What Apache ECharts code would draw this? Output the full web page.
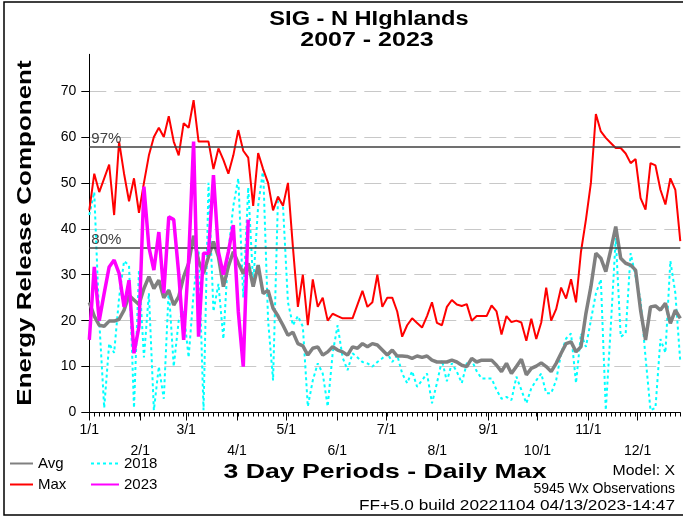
<!DOCTYPE html>
<html><head><meta charset="utf-8">
<script src="https://cdn.jsdelivr.net/npm/echarts@6/dist/echarts.min.js"></script>
<style>html,body{margin:0;padding:0;background:#fff}#c{width:683px;height:517px}</style>
</head><body><div id="c"></div>
<script>
// ---- data ----
const monthLabels = ['1/1','2/1','3/1','4/1','5/1','6/1','7/1','8/1','9/1','10/1','11/1','12/1'];
const monthStartDays = [0,31,59,90,120,151,181,212,243,273,304,334];
const yTickValues = [0,10,20,30,40,50,60,70];
const maxVals = [44,52,48,51,54,43,59,52,46,51,43.5,50,56,60,62,60,64.5,59,56,63,62,68,59,59,59,53,57.5,55,52,56,61.5,57,55.5,45,56.5,53,50,44,47,45,
 50,36,23,30,19,29,23,25,20,21.5,21,20.5,20.5,20.5,23.5,26.5,23,24,30,23,25,25,22,16.5,19,20.5,19.5,18.5,21,24,19.5,19,23,24.5,23.5,23.2,23.6,20,21,21,
 21,23.3,22,17,21,19.7,20,19.6,15.6,20.4,16,19.6,27.2,20,22.5,27.2,24.8,29,24,35,42,50,65,61.2,59.8,58.7,57.6,57.6,56.4,54.3,55.2,46.7,44.2,54.3,53.8,48.5,45.3,51,48.5,37.3];
const avgVals = [24,21,19,18.8,19.9,19.9,20.3,22.3,25.5,24.5,23.5,27,29.6,27,28.8,25,26.6,23.4,25.2,29.6,32.5,38.5,33,30.3,33.9,37.2,33.9,27.4,31.8,35,32.5,30.3,32.5,27.4,32.1,25.9,26.6,22.7,21,19,
 16.8,17.5,15,14.5,12.5,14,14.3,12.5,13.2,14.3,13.6,13.2,12.5,14.3,14,15,14.3,15,14.7,13.6,12.5,13.6,12.3,12.3,12.2,11.8,12.3,12,12.3,11.4,11,11,11,11.4,11,10.3,10,11.8,11,11.4,
 11.4,11.4,10.3,8.9,10.7,8.5,10,11.6,8.2,9.6,10.1,10.8,10,8.9,10.7,12.9,15,15.4,13.2,14.3,21.6,27.4,34.7,33.6,30.7,35.4,40.5,33.6,32.5,32.1,31,22.3,15.8,23,23.2,22.3,23.8,19.4,22.3,20.5];
const y2018 = [43,48,20,1,15,13,25,33,32,1,31,12,26,0.5,10,3,27,10,20,22,12,26,36,0.5,50,22,28,16,35,45,51,25,49,28,45,53,20,7,47,45,
 24,19,21,18.7,1.3,7,10.7,8.5,1.3,12.9,19,12,9.2,12.9,12,11,10.7,10,11,11.8,12.9,11,12.5,8.5,6.4,9,5.6,7,8.5,2,6.4,11.4,6.8,10.7,8.9,6.4,10.7,11.4,9,7.4,
 7.4,7.4,4.9,3,3.4,2.7,7.8,4.9,2,5.3,7,8.5,4.2,4.2,7,12.9,16.1,17.2,6.4,17.2,14.3,20.1,25.9,29,0.5,18.7,38,16.5,17.2,34.7,29.6,24.5,12,0.5,1,16,13,33,26,11];
const y2023 = [15.8,31.7,20,26,31.7,33.2,30.3,23,28.8,12.9,18.7,49.2,36,31,39.3,26,42.6,42,30.3,15.8,33.2,59,16.5,34.7,34.7,51.7,35,30,35,40.8,22,10,42];
const pct97 = 57.8, pct80 = 35.8;

// ---- build ----
const FONT = '"Liberation Sans", Arial, sans-serif';
const periodCats = maxVals.map((_, i) => String(i + 1));
const dayCats = Array.from({length: 361}, (_, d) => String(d));
const isMonthStart = (idx) => monthStartDays.indexOf(idx) >= 0;

const legendCommon = {orient: 'vertical', top: 451, itemHeight: 14, itemGap: 6, selectedMode: false,
  itemStyle: {opacity: 0}, textStyle: {color: '#000', fontFamily: FONT, fontSize: 15}};

const chart = echarts.init(document.getElementById('c'), null, {renderer: 'canvas'});
chart.setOption({
  animation: false,
  backgroundColor: '#fff',
  grid: {left: 89.3, right: 2.7, top: 54.3, bottom: 104.5, containLabel: false},
  xAxis: [
    {type: 'category', data: periodCats, boundaryGap: false, position: 'bottom',
     axisLine: {show: true, lineStyle: {color: '#000', width: 1}},
     axisTick: {show: true, length: 4, lineStyle: {color: '#000'}, interval: 0},
     axisLabel: {show: false}, splitLine: {show: false}},
    {type: 'category', data: dayCats, boundaryGap: false, position: 'bottom', offset: 0,
     axisLine: {show: false},
     axisTick: {show: true, length: 8, lineStyle: {color: '#000'}, interval: (idx) => isMonthStart(idx)},
     axisLabel: {show: true, interval: (idx) => isMonthStart(idx), margin: 7, color: '#000',
       fontFamily: FONT, fontSize: 14, lineHeight: 21,
       formatter: (v) => { const k = monthStartDays.indexOf(Number(v)); if (k < 0) return ''; return k % 2 === 0 ? monthLabels[k] : '\n' + monthLabels[k]; }},
     splitLine: {show: false}}
  ],
  yAxis: {type: 'value', min: 0, max: 78, interval: 10,
    axisLine: {show: true, lineStyle: {color: '#000', width: 1}},
    axisTick: {show: true, length: 8, lineStyle: {color: '#000'}},
    axisLabel: {color: '#000', fontFamily: FONT, fontSize: 14, margin: 13, showMaxLabel: false,
      formatter: (v) => yTickValues.indexOf(v) >= 0 ? String(v) : ''},
    splitLine: {show: true, showMaxLine: false, lineStyle: {color: '#c8c8c8', width: 1, type: [17, 8]}}},
  legend: [
    Object.assign({}, legendCommon, {data: ['Avg', 'Max'], left: 4, itemWidth: 23}),
    Object.assign({}, legendCommon, {data: ['2018', '2023'], left: 85, itemWidth: 28})
  ],
  series: [
    {name: '2018', type: 'line', data: y2018, symbol: 'none', z: 2,
     lineStyle: {color: '#00ffff', width: 2, type: [3, 3]}, itemStyle: {color: '#00ffff'}},
    {name: 'Avg', type: 'line', data: avgVals, symbol: 'none', z: 3,
     lineStyle: {color: '#808080', width: 3.5}, itemStyle: {color: '#808080'},
     markLine: {silent: true, symbol: ['none', 'none'],
       lineStyle: {color: '#404040', width: 1.5, type: 'solid'},
       label: {position: 'insideStartTop', distance: [2, 1], color: '#404040', fontFamily: FONT, fontSize: 15,
         formatter: (p) => p.name},
       data: [{yAxis: pct97, name: '97%'}, {yAxis: pct80, name: '80%'}]}},
    {name: 'Max', type: 'line', data: maxVals, symbol: 'none', z: 4,
     lineStyle: {color: '#ff0000', width: 2}, itemStyle: {color: '#ff0000'}},
    {name: '2023', type: 'line', data: y2023, symbol: 'none', z: 5,
     lineStyle: {color: '#ff00ff', width: 3.5}, itemStyle: {color: '#ff00ff'}}
  ],
  graphic: [
    {type: 'rect', shape: {x: 4, y: 2, width: 700, height: 513}, style: {fill: 'none', stroke: '#000', lineWidth: 1.5}, silent: true},
    {type: 'text', x: 369, y: 19, scaleX: 1.18, style: {text: 'SIG - N HIghlands', font: 'bold 20px ' + FONT, fill: '#000', textAlign: 'center', textVerticalAlign: 'middle'}},
    {type: 'text', x: 367, y: 40, scaleX: 1.25, style: {text: '2007 - 2023', font: 'bold 20px ' + FONT, fill: '#000', textAlign: 'center', textVerticalAlign: 'middle'}},
    {type: 'text', x: 25, y: 233, rotation: Math.PI / 2, scaleX: 1.3, style: {text: 'Energy Release Component', font: 'bold 20px ' + FONT, fill: '#000', textAlign: 'center', textVerticalAlign: 'middle'}},
    {type: 'text', x: 385, y: 472.5, scaleX: 1.3, style: {text: '3 Day Periods - Daily Max', font: 'bold 20.5px ' + FONT, fill: '#000', textAlign: 'center', textVerticalAlign: 'middle'}},
    {type: 'text', x: 675, y: 471, scaleX: 1.13, style: {text: 'Model: X', font: '14px ' + FONT, fill: '#000', textAlign: 'right', textVerticalAlign: 'middle'}},
    {type: 'text', x: 675, y: 489, scaleX: 1.0, style: {text: '5945 Wx Observations', font: '14px ' + FONT, fill: '#000', textAlign: 'right', textVerticalAlign: 'middle'}},
    {type: 'text', x: 675, y: 506, scaleX: 1.23, style: {text: 'FF+5.0 build 20221104 04/13/2023-14:47', font: '14px ' + FONT, fill: '#000', textAlign: 'right', textVerticalAlign: 'middle'}}
  ]
});
</script>
</body></html>
